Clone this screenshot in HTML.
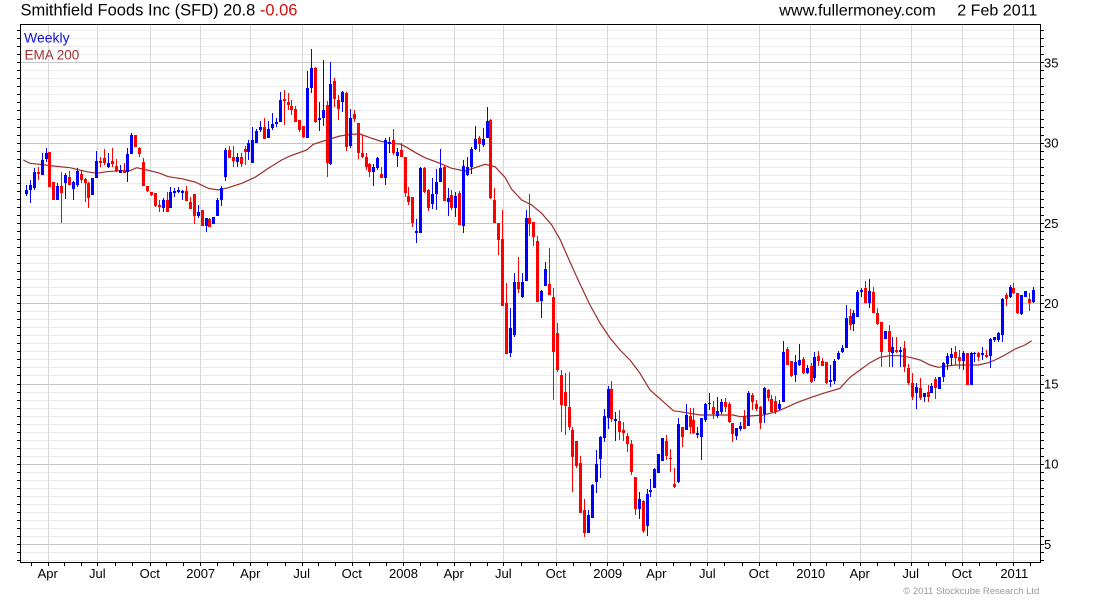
<!DOCTYPE html>
<html><head><meta charset="utf-8"><style>
html,body{margin:0;padding:0;background:#fff;}
svg{display:block;}
text{font-family:"Liberation Sans",Arial,sans-serif;}
</style></head><body>
<svg id="c" width="1100" height="600" viewBox="0 0 1100 600" xmlns="http://www.w3.org/2000/svg">
<rect x="0" y="0" width="1100" height="600" fill="#fff"/>
<g id="grid"></g>
<g id="ema"></g>
<g id="candles"></g>
<rect x="20.5" y="24.5" width="1020" height="538" fill="none" stroke="#000" stroke-width="1"/>
<g id="ticks"></g>
<text x="20.5" y="15.7" font-size="16.5" fill="#000" textLength="277" lengthAdjust="spacingAndGlyphs">Smithfield Foods Inc (SFD) 20.8 <tspan fill="#d01010">-0.06</tspan></text>
<text x="779.3" y="15.7" font-size="16" fill="#000" textLength="156.4" lengthAdjust="spacingAndGlyphs">www.fullermoney.com</text>
<text x="957.3" y="15.7" font-size="16" fill="#000" textLength="80" lengthAdjust="spacingAndGlyphs">2 Feb 2011</text>
<text x="24" y="42.5" font-size="14" fill="#1010d8">Weekly</text>
<text x="24.5" y="59.3" font-size="13.5" fill="#a03030">EMA 200</text>
<g font-size="13" fill="#000">
<text x="1044" y="67.3">35</text>
<text x="1044" y="147.5">30</text>
<text x="1044" y="227.8">25</text>
<text x="1044" y="308.1">20</text>
<text x="1044" y="388.4">15</text>
<text x="1044" y="468.7">10</text>
<text x="1044" y="549.1">5</text>
</g>
<g font-size="13" fill="#000" text-anchor="middle">
<text x="47.7" y="578">Apr</text>
<text x="97.3" y="578">Jul</text>
<text x="149.7" y="578">Oct</text>
<text x="200.7" y="578">2007</text>
<text x="250.3" y="578">Apr</text>
<text x="301.7" y="578">Jul</text>
<text x="351.7" y="578">Oct</text>
<text x="403.5" y="578">2008</text>
<text x="453.7" y="578">Apr</text>
<text x="503.3" y="578">Jul</text>
<text x="555.7" y="578">Oct</text>
<text x="607.7" y="578">2009</text>
<text x="656.3" y="578">Apr</text>
<text x="707.3" y="578">Jul</text>
<text x="758.7" y="578">Oct</text>
<text x="810.7" y="578">2010</text>
<text x="859.7" y="578">Apr</text>
<text x="910.7" y="578">Jul</text>
<text x="961.7" y="578">Oct</text>
<text x="1014.3" y="578">2011</text>
</g>
<text x="903.3" y="594" font-size="9.5" fill="#9a9a9a" textLength="136" lengthAdjust="spacingAndGlyphs">© 2011 Stockcube Research Ltd</text>
</svg>
<script>
(function(){
function Y(v){return 62.3+(35-v)*16.06;}
var grid='',ticks='';
// horizontal grid
for(var k=8;k<=74;k++){
  var v=k/2, y=Y(v);
  if(y<=25||y>=562)continue;
  var yy=Math.round(y)+0.5;
  var major=(k%10===0);
  grid+='<line x1="21" x2="1040" y1="'+yy+'" y2="'+yy+'" stroke="'+(major?'#c4c4c4':'#ebebeb')+'" stroke-width="1"/>';
  ticks+='<line x1="1040" x2="1044" y1="'+yy+'" y2="'+yy+'" stroke="#000" stroke-width="1"/>';
  ticks+='<line x1="17" x2="20" y1="'+yy+'" y2="'+yy+'" stroke="#000" stroke-width="1"/>';
}
var G=[47.7,97.3,149.7,199.7,250.3,301.7,351.7,402.5,453.7,503.3,555.7,606.7,656.3,707.3,758.7,809.7,859.7,910.7,961.7,1013.3];
var M=[31];
for(var i=0;i<G.length;i++){
  var gx=Math.round(G[i])+0.5;
  grid+='<line x1="'+gx+'" x2="'+gx+'" y1="25" y2="562" stroke="#d8d8d8" stroke-width="1"/>';
  M.push(G[i]);
  if(i<G.length-1){var d=(G[i+1]-G[i])/3;M.push(G[i]+d);M.push(G[i]+2*d);}
}
M.push(1030);
for(var j=0;j<M.length;j++){
  var mx=Math.round(M[j])+0.5;
  ticks+='<line x1="'+mx+'" x2="'+mx+'" y1="563" y2="566" stroke="#000" stroke-width="1"/>';
}
document.getElementById('grid').innerHTML=grid;
document.getElementById('ticks').innerHTML=ticks;

var E=[[23.3,160],[30,163.3],[40,164.3],[53.3,166],[70,167.7],[86.7,171.7],[96.7,173.3],[106.7,171.7],[120,170.7],[130,170.7],[136.7,167.7],[146.7,170],[158.3,172.7],[168.3,176.7],[181.7,178.7],[195,182],[208.3,188.3],[218.3,190],[228.3,187.7],[241.7,183.3],[255,177.3],[268.3,168.3],[281.7,160],[290,156],[306.7,150],[313.3,144.3],[326.7,140],[340,136],[351.7,134.3],[360,134],[370,137.7],[380,141],[390,143.3],[400,144],[406.7,147.3],[416.7,153.3],[425,157.7],[438.3,162.7],[451.7,168.3],[465,171],[475,167.7],[485,164.3],[495,166.7],[505,177.3],[511.7,189.3],[521.7,200],[531.7,205],[541.7,213.3],[551.7,225],[560,239.3],[570,262],[580,284],[590,305],[600,323],[610,338],[620,350],[630,360],[640,373.3],[650,390],[663.3,401.7],[673.3,410.7],[680,411.7],[700,415],[720,415],[733.3,415],[740,416.7],[750,416],[763.3,415],[776.7,411.7],[786.7,407.3],[796.7,402.7],[810,397.8],[823.3,393.3],[840,388.3],[850,377.3],[860,370],[870,362.7],[880,357.3],[890,355.7],[900,355.7],[910,357.3],[920,360],[930,365],[938.3,367.3],[955,365],[965,365],[978.3,365],[988.3,362.7],[995,360],[1005,355],[1015,349],[1025,345],[1031.7,340.7]];
var p='M'+E.map(function(q){return q[0]+','+q[1];}).join(' L');
document.getElementById('ema').innerHTML='<path d="'+p+'" fill="none" stroke="#9b2d2d" stroke-width="1.2"/>';

var D=[
['b',190,194,185,196],['b',185,190,180,203],['b',172.3,187.7,168,190],['r',171.7,174,166.7,180],['b',160,175,153,175],
['b',153.3,159.3,148,161.7],['r',152.3,186.7,151.7,186.7],['r',181.7,200,181.7,200],['b',186,200,183,200],['r',186,192.7,171.7,222.7],
['b',175,183.3,173,199],['r',176.7,185,170.7,185],['b',181.7,189.3,180.7,200],['b',170.7,185,168,186.7],['r',174,180,170,183],
['r',179,183.3,178,201.7],['r',183.3,198.3,181.7,207.7],['b',178.3,195,178.3,195],['b',161,177.7,151,178.3],['r',161,163.3,156.7,166.7],
['r',158.3,163.3,149.3,165],['b',163.3,166.7,153.3,168.3],['r',161,164.3,148.3,166.7],['r',166,170.7,159.3,171.7],['b',170,172.7,165,173.3],
['r',170,172.7,163.3,173.3],['b',154.3,172.3,148.3,181.7],['b',135,154.3,133.3,154.3],['r',135,146.7,135,146.7],['r',147.7,154.3,146.7,156.7],
['r',161.7,186,158.3,186],['r',186,190.7,186,191.7],['r',191.7,195,191.7,196],['r',192.7,206,192.7,206.7],['r',205,206.7,200,211.7],
['b',200,207.7,198.3,211.7],['r',200,212.3,191.7,212.3],['b',191.7,207.7,186.7,207.7],['b',191,192.7,188.3,196.7],['b',190,191.7,186.7,193.3],
['b',191,192.7,190,200],['r',191,200.7,186,200.7],['r',201.7,209,196.7,209],['r',194.3,215.7,194.3,224],['b',211.7,216,205,218.3],
['r',210,225.7,210,225.7],['b',218.3,225.7,218.3,231.7],['r',219.3,226.7,218.3,226.7],['b',216.7,224,216.7,224],['b',200,216,198.3,216],
['b',188.3,200,186,205.7],['b',150,177.3,148.3,180.7],['r',150,158.3,146,158.3],['r',156.7,161,146,166.7],['b',156.7,161.7,153.3,166.7],
['r',156.7,164,153.3,167.3],['r',149.3,151.7,146,165],['b',142.7,151.7,140,160],['b',140,162.7,126.7,162.7],['b',130.7,143.3,129.3,143.3],
['b',126.7,130,121,131.7],['r',126.7,139,118.3,139],['b',129,137.7,121,137.7],['b',124,127.7,113.3,130],['b',121.7,124.3,117.7,126.7],
['b',100,121.7,91.7,121.7],['r',99,100.7,90,125],['r',101.7,105,93.3,110],['r',106,110,100,115],['r',109,121.7,106,121.7],
['r',120,130,120,131.7],['r',126,136.7,126,137.7],['b',88.3,138.3,70.7,138.3],['b',68.3,88.3,49.3,92.7],['r',68.3,121.7,67.3,123.3],
['b',117.7,120,101.7,130.7],['b',110,118.3,60,126],['r',105,163.3,100.7,176.7],['b',84,164,62.3,165],['r',81,99,78.3,106.7],
['r',100,109,95,120],['b',91.7,102.3,90.7,111.7],['r',92.7,146.7,91.7,151],['b',118.3,146,109.3,148.3],['r',114,119,110,122.3],
['r',123.3,152.7,123.3,159.3],['r',153.3,156.7,135,158.3],['r',157.3,166.7,152.7,170],['r',164,172.3,162.7,176.7],['b',166.7,171.7,164,185.7],
['b',158.3,168.3,156.7,170],['r',174,177.7,167.3,178.3],['b',140,178.3,138.3,185],['b',141.7,144.3,136.7,153.3],['r',140,153.3,129.3,155],
['b',151.7,156,148.3,166.7],['r',150,157.3,143.3,157.3],['r',156.7,193.3,156.7,197.3],['r',195.7,202.3,186.7,205],['r',196.7,222.7,196.7,226.7],
['b',231,233.3,219.3,242.7],['b',168.3,233.3,167.3,233.3],['r',167.7,191.7,166.7,192.7],['r',190,208.3,189.3,210.7],['b',194.3,204,178.3,209.3],
['b',181.7,194,169.3,210],['b',168.3,181.7,149.3,181.7],['r',166.7,200.7,166,200.7],['b',197.7,201.7,188.3,216],['r',195,207.7,190,210],
['b',196,207.7,191.7,217.3],['r',193.3,225,190.7,225],['b',165.7,226,160,232.7],['b',166.7,175,156.7,176],['b',149,166.7,146.7,174],
['b',139,149,126,150],['r',137.7,144,136,151.7],['b',139,145,128.3,146.7],['b',121,137.7,106.7,137.7],['r',120,198.3,119,199.3],
['r',200,222.7,188.3,222.7],['r',223.3,240,223.3,255],['r',239.3,306,210,306],['r',303.3,354,283.3,354],['b',328.3,353.3,308.3,356.7],
['b',281.7,335,273.3,337.3],['r',281.7,289.3,256.7,293.3],['b',281.7,296.7,273.3,297.7],['b',218.3,280.7,210,280.7],['r',218.3,224,194,236],
['r',221.7,236.7,221.7,246],['r',241,301.7,236,302.3],['b',291,301,290,317.7],['b',269,285.7,261.7,286],['r',284,295,247.7,295],
['r',297.3,352,288.3,400],['r',332.7,370,322.7,372],['r',375,405,370,431.7],['r',391.7,406,373.3,435],['r',406.7,426.7,371.7,430],
['r',430,456.7,426.7,491.7],['r',441,466,441,467.7],['r',463.3,513.3,456,513.3],['r',510,533.3,499.3,537.3],['b',515,533.3,510,533.3],
['b',485,518.3,484,518.3],['b',464,481.7,450,493.3],['b',436.7,459.3,436,477.7],['b',416,437.7,409.3,441.7],['b',389.3,417.7,386,429.3],
['r',389.3,419.3,381,421.7],['b',419,420.7,411.7,440.7],['r',421,432.3,410,440],['r',430,433.3,421.7,441],['r',436,444.3,432.7,451.7],
['r',444,471.7,440,475],['r',477.3,509,476.7,515],['b',499.3,509.3,491.7,519.3],['r',501,531,500,533.3],['b',494,525.7,489.3,535.7],
['b',490,491.7,479,496.7],['b',469,487.7,468.3,487.7],['b',454.3,472.7,454.3,472.7],['b',438.3,460.7,437.7,460.7],['r',441,456,435,460],
['r',458.3,459.3,449.3,471.7],['r',484,486.7,468,488.3],['b',424.3,481.7,417.7,482.7],['r',427.3,436.7,426.7,447.3],['b',415,430,404,430],
['r',416,426.7,408.3,434.3],['r',420,433.3,408.3,434],['b',432.7,435,426.7,438.3],['b',417.7,436.7,417.7,460],['b',404,420,402.7,421.7],
['b',402.7,404.3,392.7,410],['r',407.3,414,400.7,419.3],['b',411,416,396.7,418.3],['b',401.7,412.3,399,414],['r',402.3,407.3,398.3,411.7],
['r',404,421.7,401.7,422.7],['r',423.3,434,423.3,441.7],['b',428.3,436,428.3,440],['b',426,429.3,421.7,430.7],['r',415.7,429,410,429],
['b',392.7,426,391,426],['r',395,401.7,392.7,410],['r',404,409.3,400,410.7],['r',406.7,422.7,406,429.3],['b',388.3,414,386.7,422.7],
['r',390,398.3,389.3,401],['r',399.3,411.7,395,411.7],['r',401,411.7,396,414.3],['b',404,409.3,400,410],['b',351.7,401.7,341,401.7],
['r',349,365,346.7,365],['r',361,375.7,361,376.7],['b',362.3,375,355,381.7],['b',360,365,344,366],['r',359,373.3,356.7,374.3],
['b',368.3,373.3,365,374],['r',366,382,363.3,382.5],['b',357.3,378.3,351.7,380.7],['r',356,361,350.7,366],['r',361,365.7,358.3,366],
['r',361.7,383.3,361.7,384],['b',380,381.7,365,387.3],['b',360.7,380.7,359.3,384.3],['b',352.7,359.3,351,360],['b',347.7,351.7,345,352.7],
['b',318.3,347.7,305,347.7],['r',316,325,309.3,330],['b',313.3,324,310,330.7],['b',291.7,317.3,290,317.3],['b',290,291.7,288.3,296.7],
['r',288.3,302.7,281,302.7],['b',291,303.3,279.3,308.3],['r',291.7,312.7,287.3,312.7],['r',313.3,324,308.3,325],['r',321.7,351.7,321.7,366.7],
['b',331,339,331,339],['r',331,351.7,325,366.7],['b',346.7,353.3,336.7,366.7],['r',350,352.3,336.7,353.3],['b',350,351.7,346.7,366.7],
['r',348.3,366.7,340.7,371.7],['r',368.3,382.7,364.3,385],['r',383.3,396.7,373.3,400],['b',387.3,393.3,382.7,409.3],['r',387.7,398.3,378.3,400],
['b',392.7,396.7,392.7,401.7],['r',392.3,396.7,385,401.7],['b',386,393.3,383.3,393.3],['r',379.3,388.3,376.7,399],['b',377.3,389.3,377.3,389.3],
['b',362.7,377.3,361.7,381.7],['b',356,364,353.3,370],['b',354.3,358.3,348.3,365],['r',351.7,358.3,346,365],['r',357.3,360.7,350,369.3],
['b',353.3,361,351,370],['r',353.3,385,353.3,385],['b',353.3,385,351.7,385],['b',352.7,354,351.7,361.7],['r',352.7,356.7,351.7,360.7],
['b',353.3,355,346.7,360],['r',355,357.3,350,358.3],['b',339.3,356,338.3,368.3],['b',336.7,340,336.7,341.7],['b',333.3,340,331.7,341.7],
['b',299.3,335,298.3,341.7],['r',295,299,292.7,306],['b',287.3,296.7,285,298.3],['r',288.3,293.3,283.3,294],['r',293.3,313.3,293.3,314],
['b',295,314,295,315],['b',291,296.7,291,296.7],['r',299.3,303.3,292.7,310.7],['b',290,301.7,287.3,302.7]
];
var s='';
for(var n=0;n<D.length;n++){
  var c=D[n], cx=Math.round(26+n*3.903);
  var col=c[0]==='b'?'#0000ff':'#ff0000';
  var bt=Math.round(c[1]), bb=Math.round(c[2]), wt=Math.round(c[3]), wb=Math.round(c[4]);
  if(bb-bt<1)bb=bt+1;
  if(wb-wt<1)wb=wt+1;
  s+='<rect x="'+cx+'" y="'+wt+'" width="1" height="'+(wb-wt)+'" fill="'+col+'"/>';
  s+='<rect x="'+(cx-1)+'" y="'+bt+'" width="3" height="'+(bb-bt)+'" fill="'+col+'"/>';
}
document.getElementById('candles').innerHTML=s;
})();
</script>
</body></html>
